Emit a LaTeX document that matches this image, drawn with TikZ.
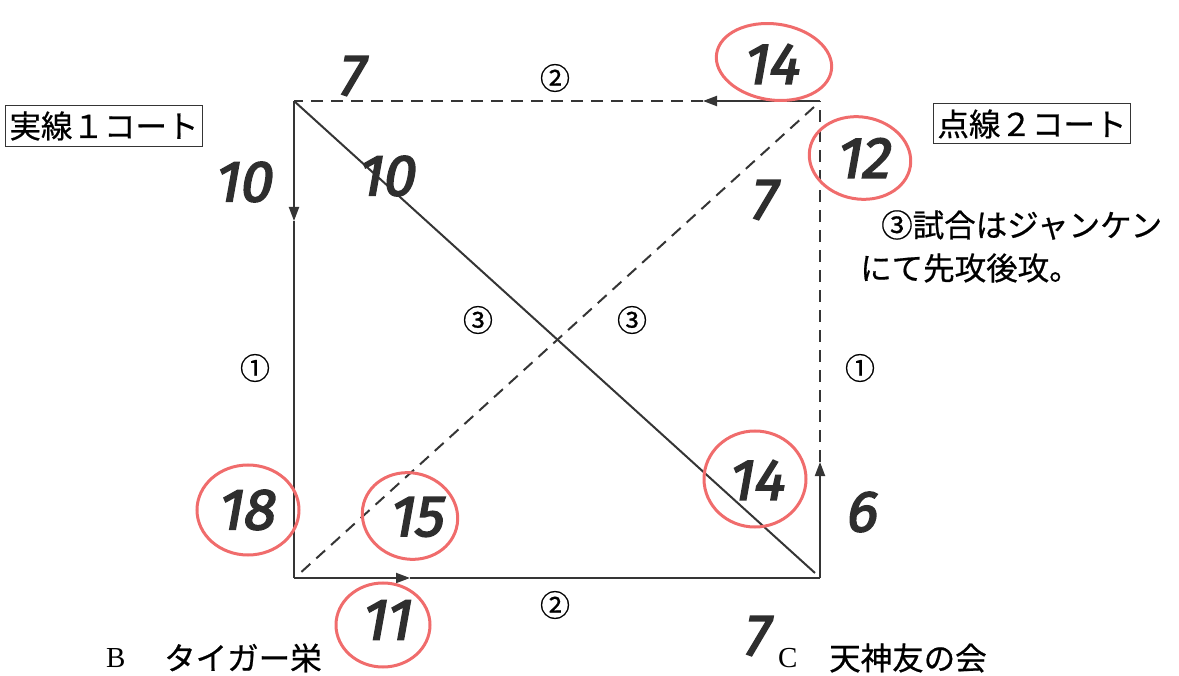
\documentclass[tikz,border=0pt]{standalone}
\usepackage{fontspec}
\setmainfont{Liberation Serif}
\newfontfamily\jp[FakeBold=0.6]{Noto Sans CJK JP}
\newfontfamily\hand[FakeSlant=0.18,FakeBold=3]{Fira Sans}
\usetikzlibrary{arrows.meta}
\definecolor{ink}{HTML}{2E2E2E}
\definecolor{line}{HTML}{353535}
\definecolor{redpen}{HTML}{F06C6C}
\tikzset{
  court/.style={line width=2pt, draw=line},
  dashcourt/.style={line width=2pt, draw=line, dash pattern=on 12pt off 8pt},
  tip/.style={-{Triangle[length=14pt,width=10pt]}},
  num/.style={font=\hand\fontsize{58}{58}\selectfont, text=ink, inner sep=0pt},
  redring/.style={draw=redpen, line width=3pt},
  circnum/.style={font=\jp\fontsize{30}{30}\selectfont, text=black, inner sep=0pt},
  jtext/.style={font=\jp\fontsize{31.5}{33}\selectfont, text=black, inner sep=0pt},
  boxlabel/.style={jtext, draw=line, line width=1pt, inner xsep=4pt, inner ysep=4pt},
}
\begin{document}
\begin{tikzpicture}[x=1pt,y=-1pt]
\useasboundingbox (0,0) rectangle (1179,676);
% corners
\coordinate (TL) at (294,101);
\coordinate (TR) at (820,101);
\coordinate (BL) at (294,578);
\coordinate (BR) at (820,578);
\coordinate (aL) at (294,221);
\coordinate (aB) at (410,578);
\coordinate (aT) at (703,101);
\coordinate (aR) at (820,462);
\coordinate (dTR) at (814,107);
\coordinate (dBL) at (298,575);
\coordinate (sBR) at (815,573);
% solid court
\draw[court, tip] (TL) -- (aL);
\draw[court] (aL) -- (BL);
\draw[court, tip] (BL) -- (aB);
\draw[court] (aB) -- (BR);
\draw[court] (TL) -- (sBR);
% dashed court
\draw[court, tip] (BR) -- (aR);
\draw[dashcourt] (aR) -- (TR);
\draw[court, tip] (TR) -- (aT);
\draw[dashcourt] (aT) -- (TL);
\draw[dashcourt] (dTR) -- (dBL);

% red rings
\draw[redring, rotate around={-8:(774,62)}] (774,62) ellipse (58pt and 38pt);
\draw[redring, rotate around={-10:(860,158)}] (860,158) ellipse (51pt and 41pt);
\draw[redring] (248,510) ellipse (51pt and 45pt);
\draw[redring, rotate around={-15:(410,516)}] (410,516) ellipse (48pt and 43pt);
\draw[redring] (383,625) ellipse (47pt and 42pt);
\draw[redring] (755,479) ellipse (51pt and 48pt);

% handwritten numbers
\node[num] (n7t) at (350,76) {7};
\node[num] (n14t) at (770,64) {14};
\node[num] (n10l) at (242,182) {10};
\node[num] (n10i) at (385,176) {10};
\node[num] (n7i) at (762,200) {7};
\node[num] (n12) at (862,158) {12};
\node[num] (n18) at (245,510) {18};
\node[num] (n15) at (415,517) {15};
\node[num] (n14b) at (755,480) {14};
\node[num] (n6) at (860,512) {6};
\node[num] (n11) at (385,620) {11};
\node[num] (n7b) at (755,636) {7};

% circled numbers
\node[circnum] (c2t) at (555,78) {②};
\node[circnum] (c2b) at (555,605) {②};
\node[circnum] (c1l) at (255,368) {①};
\node[circnum] (c1r) at (860,368) {①};
\node[circnum] (c3l) at (478,320) {③};
\node[circnum] (c3r) at (632,320) {③};

% boxed labels
\node[boxlabel, minimum width=192pt, minimum height=41pt] (lab1) at (104,126) {実線１コート};
\node[boxlabel, minimum width=191pt, minimum height=40pt] (lab2) at (1032,124) {点線２コート};

% note
\node[jtext, anchor=west] (note1) at (881,225) {③試合はジャンケン};
\node[jtext, anchor=west] (note2) at (860,268) {にて先攻後攻。};

% team labels
\node[font=\fontsize{29}{30}\selectfont, inner sep=0pt, anchor=west] (tB) at (106,658) {B};
\node[jtext, anchor=west] (tBn) at (164,658) {タイガー栄};
\node[font=\fontsize{29}{30}\selectfont, inner sep=0pt, anchor=west] (tC) at (778,658) {C};
\node[jtext, anchor=west] (tCn) at (829,658) {天神友の会};
\end{tikzpicture}
\end{document}
